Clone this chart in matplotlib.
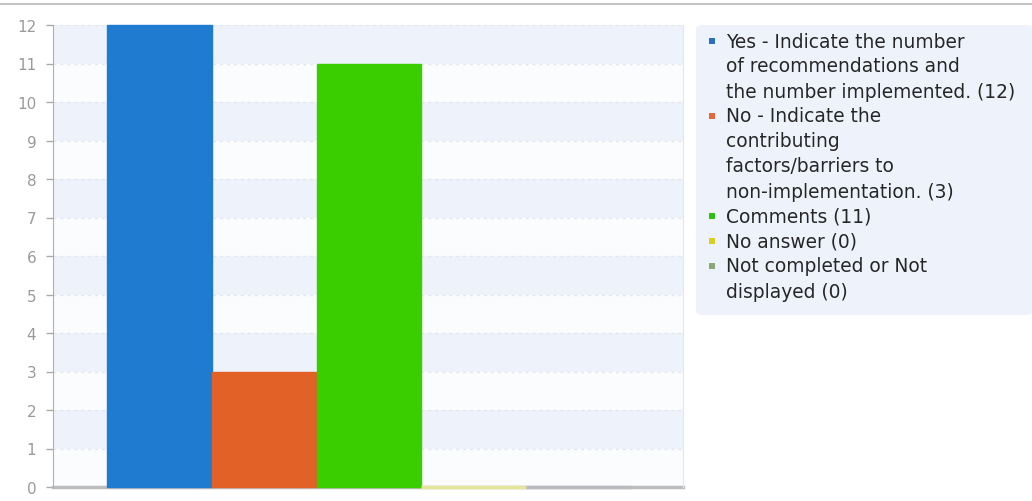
import matplotlib
matplotlib.use("Agg")
import matplotlib.pyplot as plt
from matplotlib.patches import FancyBboxPatch, Rectangle

# answer categories and their counts
categories = ["Yes", "No", "Comments", "No answer", "Not completed"]
counts = [12, 3, 11, 0, 0]
bar_colors = ["#1f7bd0", "#e26126", "#3acd00", "#e6e69a", "#b8bbbf"]
marker_colors = ["#2a6fc0", "#e0683a", "#2fbf10", "#d8d020", "#88a878"]
legend_lines = [
    ["Yes - Indicate the number", "of recommendations and", "the number implemented."],
    ["No - Indicate the", "contributing", "factors/barriers to", "non-implementation."],
    ["Comments"],
    ["No answer"],
    ["Not completed or Not", "displayed"],
]
yticks = list(range(0, 13))

plt.rcParams["font.family"] = ["DejaVu Sans"]

W, H = 1032, 502
fig = plt.figure(figsize=(W / 100, H / 100), dpi=100)

def fx(px):
    return px / W

def fy(py):
    return 1 - py / H

# axes placed in pixel terms
ax = fig.add_axes([fx(53), fy(488), fx(683) - fx(53), fy(26) - fy(488)])
ax.set_facecolor("#fbfcfe")

# alternating bands + dashed grid
for y0 in range(1, 12, 2):
    ax.axhspan(y0, y0 + 1, color="#eef3fb", zorder=0, lw=0)
for y in yticks[1:]:
    ax.axhline(y, color="#e2e7ef", lw=1, ls=(0, (2, 3)), zorder=0.5)

x = list(range(len(categories)))
# zero-height bars still show as a thin strip on the baseline
edge_w = [1.0 if c > 0 else 2.5 for c in counts]
ax.bar(x, counts, width=1.0, color=bar_colors, edgecolor=bar_colors,
       linewidth=edge_w, zorder=3, clip_on=False)

ax.set_xlim(-1.02, 5.0)
ax.set_ylim(0, 12)
ax.set_yticks(yticks)
ax.set_xticks([])
ax.tick_params(axis="y", colors="#aaaaaa", labelcolor="#9a9a9a",
               labelsize=11, length=5, width=1, pad=7)
ax.spines["top"].set_visible(False)
ax.spines["right"].set_color("#e4e6ea")
ax.spines["left"].set_color("#b0b0b0")
ax.spines["bottom"].set_color("#bdbdbd")
ax.spines["bottom"].set_linewidth(2.5)
ax.spines["bottom"].set_zorder(2)

# thin rule across the top
fig.add_artist(plt.Line2D([0, 1], [fy(5), fy(5)], color="#c4c4c4", lw=1.5))

# legend box drawn by hand so wrapped lines sit like the original
box = FancyBboxPatch((fx(700), fy(314)), fx(1030) - fx(700), fy(28) - fy(314),
                     boxstyle="round,pad=0.004,rounding_size=0.008",
                     transform=fig.transFigure, facecolor="#eef3fb",
                     edgecolor="none", zorder=1)
fig.add_artist(box)

line_y = 42
step = 25.0
for i, lines in enumerate(legend_lines):
    fig.add_artist(Rectangle((fx(709), fy(line_y + 3)), fx(6), 6 / H,
                             transform=fig.transFigure,
                             facecolor=marker_colors[i], edgecolor="none",
                             zorder=2))
    for j, txt in enumerate(lines):
        if j == len(lines) - 1:
            txt = f"{txt} ({counts[i]})"
        fig.text(fx(726), fy(line_y), txt, fontsize=13.4, color="#262626",
                 va="center", ha="left", zorder=3)
        line_y += step

fig.savefig("out.png", dpi=100)
